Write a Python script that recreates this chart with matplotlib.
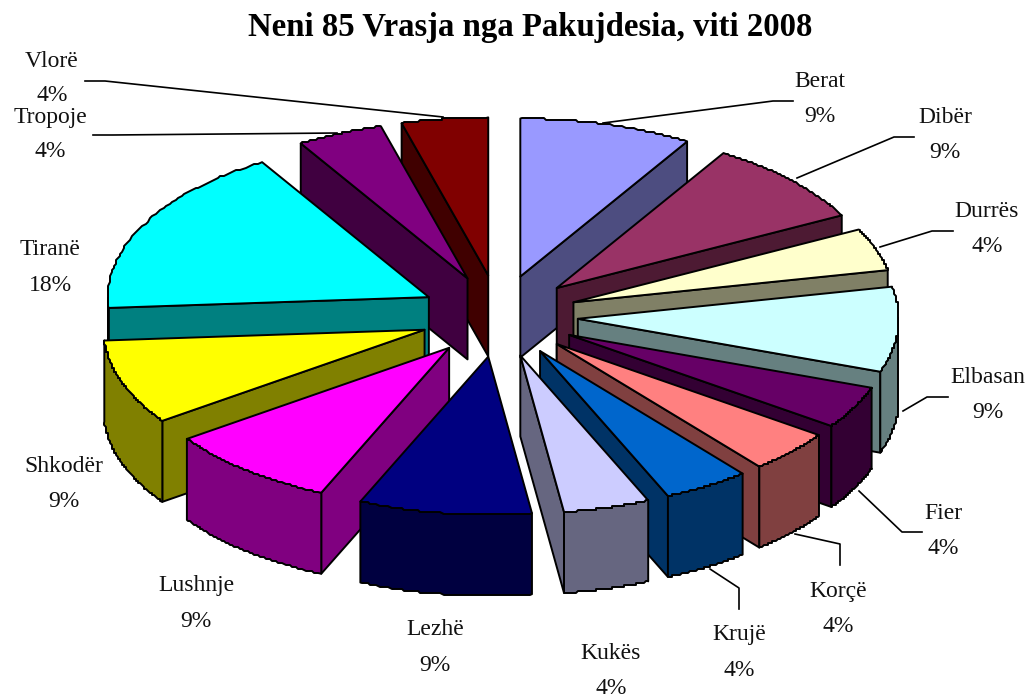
import numpy as np
import matplotlib
matplotlib.use("Agg")
from matplotlib import pyplot as plt
from matplotlib.colors import to_rgb

title = "Neni 85 Vrasja nga Pakujdesia, viti 2008"
names = ["Berat", "Dibër", "Durrës", "Elbasan", "Fier", "Korçë", "Krujë",
         "Kukës", "Lezhë", "Lushnje", "Shkodër", "Tiranë", "Tropoje", "Vlorë"]
# slice sizes are counts, the printed percents are kept as the chart shows them
values = [2, 2, 1, 2, 1, 1, 1, 1, 2, 2, 2, 4, 1, 1]
pct_labels = ["9%", "9%", "4%", "9%", "4%", "4%", "4%",
              "4%", "9%", "9%", "9%", "18%", "4%", "4%"]
colors = ["#9999FF", "#993366", "#FFFFCC", "#CCFFFF", "#660066", "#FF8080", "#0066CC",
          "#CCCCFF", "#000080", "#FF00FF", "#FFFF00", "#00FFFF", "#800080", "#800000"]

# label centre x, name y, percent y
label_x = [820, 945, 987, 988, 943, 838, 739, 611, 435, 196, 64, 50, 50, 52]
label_y = [80, 116, 210, 376, 512, 590, 633, 652, 628, 584, 465, 248, 116, 60]
pct_y = [115, 151, 245, 411, 547, 625, 669, 687, 664, 620, 500, 284, 150, 94]

# leader lines, only some labels have one
leaders = {
    "Berat": [(793, 101), (773, 101), (603, 123)],
    "Dibër": [(914, 137), (894, 137), (797, 178)],
    "Durrës": [(953, 231), (932, 231), (880, 247)],
    "Elbasan": [(948, 397), (927, 397), (903, 411)],
    "Fier": [(922, 532), (902, 532), (859, 491)],
    "Korçë": [(840, 565), (840, 544), (795, 534)],
    "Krujë": [(739, 609), (739, 588), (710, 569)],
    "Tropoje": [(93, 135), (113, 135), (337, 133)],
    "Vlorë": [(85, 81), (105, 81), (443, 117)],
}

cx, cy = 499, 316
rx, ry = 321, 158
ex, ey = 79, 41
depth = 81
lw = 1.4
step = 2  # the arcs are a bit rough in the original

fig = plt.figure(figsize=(10.26, 6.97), dpi=100)
ax = fig.add_axes([0, 0, 1, 1])
ax.set_xlim(0, 1026)
ax.set_ylim(697, 0)
ax.axis("off")

total = float(sum(values))
stops = np.concatenate([[0], np.cumsum(values)]) / total * 2 * np.pi
mids = (stops[:-1] + stops[1:]) / 2


def draw_poly(xs, ys, fc, z):
    ax.fill(xs, ys, facecolor=fc, edgecolor="black", linewidth=lw, joinstyle="round", zorder=z)


# back slices first, so the front ones cover them
order = np.argsort(-np.cos(mids))
for z, i in enumerate(order):
    a0, a1 = stops[i], stops[i + 1]
    ax0 = cx + ex * np.sin(mids[i])
    ay0 = cy - ey * np.cos(mids[i])
    t = np.linspace(a0, a1, 70)
    arc_x = ax0 + rx * np.sin(t)
    arc_y = ay0 - ry * np.cos(t)
    arc_x[1:-1] = np.round(arc_x[1:-1] / step) * step
    arc_y[1:-1] = np.round(arc_y[1:-1] / step) * step
    top = colors[i]
    side = tuple(0.5 * c for c in to_rgb(top))
    base = 3 * z

    # radial walls
    if np.sin(a0) < 0:
        px, py = arc_x[0], arc_y[0]
        draw_poly([ax0, px, px, ax0], [ay0, py, py + depth, ay0 + depth], side, base)
    if np.sin(a1) > 0:
        px, py = arc_x[-1], arc_y[-1]
        draw_poly([ax0, px, px, ax0], [ay0, py, py + depth, ay0 + depth], side, base)

    # outer wall, the part that faces front
    front = (t >= np.pi / 2) & (t <= 3 * np.pi / 2)
    if front.sum() > 1:
        fx, fy = arc_x[front], arc_y[front]
        draw_poly(np.r_[fx, fx[::-1]], np.r_[fy, fy[::-1] + depth], side, base + 1)

    draw_poly(np.r_[ax0, arc_x], np.r_[ay0, arc_y], top, base + 2)

font = ["Liberation Serif", "DejaVu Serif"]
for i, name in enumerate(names):
    ax.text(label_x[i], label_y[i] + 7, name, ha="center", va="baseline", fontsize=17,
            family=font, color="#111111", zorder=100)
    ax.text(label_x[i], pct_y[i] + 7, pct_labels[i], ha="center", va="baseline", fontsize=17,
            family=font, color="#111111", zorder=100)
    if name in leaders:
        pts = np.array(leaders[name])
        ax.plot(pts[:, 0], pts[:, 1], color="black", lw=1.2, zorder=100)

ax.text(530, 36, title, ha="center", va="baseline", fontsize=23.6, fontweight="bold",
        family=font, color="black", zorder=100)

fig.savefig("out.png", dpi=100)
